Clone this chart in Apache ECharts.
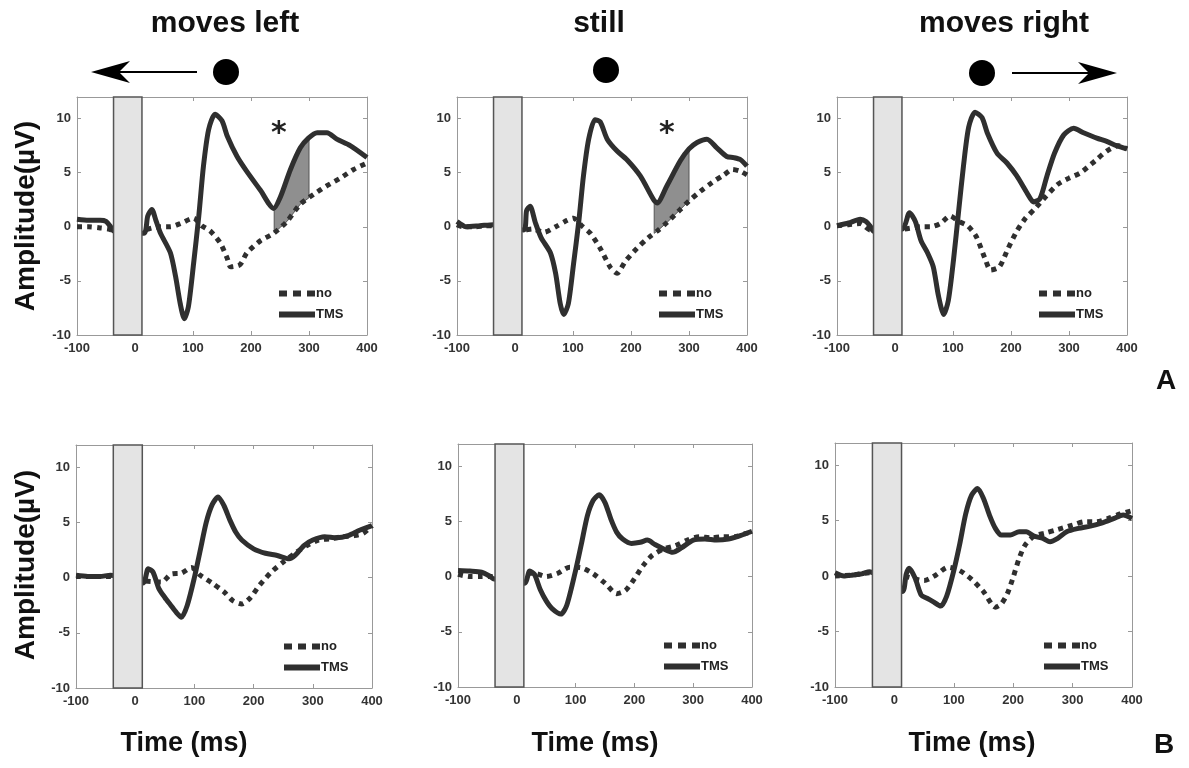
<!DOCTYPE html>
<html>
<head>
<meta charset="utf-8">
<script src="https://cdn.jsdelivr.net/npm/echarts@6/dist/echarts.min.js"></script>
<style>
html,body{margin:0;padding:0;background:#fff;}
#chart{width:1189px;height:768px;}
</style>
</head>
<body>
<div id="chart"></div>
<script>
// ---------- data ----------
const panelTitles = ['moves left', 'still', 'moves right'];
const rowLetters = ['A', 'B'];
const seriesNames = ['no', 'TMS'];
const xMin = -100, xMax = 400, xStep = 100;
const yMin = -10, yMax = 12, yStep = 5;
const tmsWindow = [-37, 12];          // grey TMS pulse box (ms)
const sigWindow = [240, 300];         // significant window (ms)

// Row A, moves left
const noA1 = [[-100,0.0],[-80,0.0],[-60,-0.1],[-45,-0.2],[-37,-0.4],[15,-0.3],[30,-0.1],[44,0.0],[61,0.0],[78,0.3],[101,0.8],[115,0.1],[130,-0.4],[147,-1.5],[159,-2.9],[165,-3.7],[181,-3.5],[193,-2.4],[216,-1.3],[239,-0.6],[262,0.5],[285,2.1],[308,3.0],[331,3.8],[354,4.5],[377,5.3],[400,5.9]];
const tmsA1 = [[-100,0.7],[-80,0.6],[-60,0.6],[-50,0.5],[-42,0.0],[-37,-0.4],[15,-0.6],[22,1.0],[29,1.6],[36,0.6],[44,-0.6],[61,-2.4],[70,-4.6],[78,-7.1],[85,-8.5],[92,-7.4],[101,-3.4],[110,1.0],[118,5.6],[127,9.0],[138,10.4],[150,9.8],[159,8.4],[176,6.5],[193,5.1],[216,3.4],[239,1.7],[251,2.8],[268,5.3],[285,7.3],[299,8.2],[314,8.7],[331,8.7],[348,8.1],[371,7.5],[400,6.4]];
// Row A, still
const noA2 = [[-100,0.2],[-90,0.0],[-70,0.0],[-50,0.1],[-37,0.1],[15,-0.3],[30,-0.2],[50,-0.5],[70,0.0],[90,0.6],[101,0.8],[115,0.1],[130,-0.6],[147,-2.0],[165,-3.8],[176,-4.3],[190,-3.2],[210,-2.0],[230,-1.0],[245,-0.4],[262,0.4],[285,1.6],[300,2.4],[320,3.3],[340,4.1],[360,4.8],[375,5.3],[390,5.1],[400,4.8]];
const tmsA2 = [[-100,0.5],[-92,0.2],[-85,0.0],[-60,0.1],[-37,0.2],[15,-0.3],[20,1.5],[26,1.9],[35,0.4],[45,-1.0],[61,-2.4],[70,-4.3],[78,-7.1],[84,-8.1],[92,-7.1],[101,-3.4],[110,0.5],[118,4.7],[127,8.1],[138,9.9],[147,9.7],[159,8.1],[176,7.0],[193,6.2],[216,4.7],[239,2.5],[245,2.2],[262,3.8],[285,6.1],[300,7.2],[314,7.8],[331,8.1],[348,7.3],[365,6.5],[377,6.4],[389,6.2],[400,5.6]];
// Row A, moves right
const noA3 = [[-100,0.1],[-80,0.2],[-60,0.3],[-42,-0.3],[15,-0.2],[45,0.0],[61,0.0],[78,0.3],[95,1.0],[110,0.5],[125,0.1],[140,-0.9],[155,-2.9],[165,-4.0],[180,-3.7],[195,-2.0],[210,-0.4],[225,0.8],[240,1.6],[260,2.8],[280,3.9],[300,4.5],[320,5.0],[345,6.1],[365,7.0],[385,7.5],[400,7.2]];
const tmsA3 = [[-100,0.1],[-80,0.35],[-60,0.7],[-50,0.5],[-42,0.0],[-37,-0.4],[13,-0.2],[25,1.3],[35,0.5],[45,-1.3],[56,-2.4],[66,-3.7],[75,-6.4],[84,-8.1],[92,-6.8],[101,-3.0],[110,1.6],[118,5.6],[127,9.2],[138,10.6],[150,10.1],[159,8.7],[176,6.8],[193,5.9],[210,4.7],[228,3.1],[239,2.3],[250,2.6],[262,4.7],[275,6.8],[291,8.5],[308,9.1],[325,8.7],[348,8.2],[365,7.9],[382,7.5],[400,7.2]];
// Row B, moves left
const noB1 = [[-100,0.1],[-70,0.1],[-42,0.1],[15,-0.3],[45,-0.4],[60,0.3],[78,0.4],[95,0.9],[110,0.2],[130,-0.5],[150,-1.3],[165,-2.1],[180,-2.4],[195,-1.8],[210,-0.7],[230,0.5],[250,1.4],[270,2.2],[290,2.9],[310,3.4],[330,3.5],[350,3.7],[370,3.8],[385,4.0],[400,4.7]];
const tmsB1 = [[-100,0.2],[-80,0.1],[-60,0.1],[-42,0.2],[13,-0.5],[22,0.8],[30,0.5],[40,-1.0],[50,-1.8],[60,-2.5],[70,-3.2],[78,-3.6],[88,-2.5],[100,0.0],[110,2.5],[120,5.0],[130,6.6],[140,7.3],[150,6.5],[160,5.2],[170,4.1],[180,3.4],[200,2.6],[220,2.2],[240,2.0],[260,1.7],[270,2.0],[285,2.9],[300,3.4],[320,3.7],[340,3.6],[360,3.8],[380,4.3],[400,4.7]];
// Row B, still
const noB2 = [[-100,0.2],[-80,0.0],[-60,0.0],[-42,0.0],[15,0.3],[30,0.3],[50,0.0],[70,0.3],[90,0.85],[110,0.8],[130,0.25],[150,-0.6],[170,-1.55],[185,-1.25],[200,-0.2],[215,1.0],[230,1.9],[250,2.5],[270,2.8],[290,3.3],[310,3.6],[330,3.5],[350,3.6],[370,3.6],[390,3.9],[400,4.1]];
const tmsB2 = [[-100,0.55],[-80,0.5],[-60,0.4],[-45,0.0],[-40,-0.2],[13,-0.6],[22,0.5],[30,0.2],[40,-1.2],[50,-2.2],[60,-2.9],[75,-3.4],[85,-2.6],[100,0.55],[110,3.0],[120,5.5],[130,6.9],[140,7.4],[150,6.7],[160,5.2],[170,4.0],[180,3.4],[195,3.0],[210,3.1],[222,3.3],[235,2.9],[250,2.5],[265,2.2],[280,2.6],[300,3.3],[320,3.4],[340,3.3],[360,3.4],[380,3.7],[400,4.1]];
// Row B, moves right
const noB3 = [[-100,0.0],[-70,0.1],[-42,0.3],[15,0.0],[50,-0.4],[70,0.1],[90,0.8],[110,0.5],[130,-0.3],[150,-1.4],[170,-2.8],[180,-2.5],[190,-1.6],[200,-0.1],[210,1.6],[220,2.8],[235,3.6],[255,3.9],[275,4.2],[300,4.6],[320,4.9],[340,4.9],[360,5.2],[380,5.6],[400,5.9]];
const tmsB3 = [[-100,0.3],[-85,0.0],[-70,0.1],[-55,0.2],[-42,0.4],[13,-1.4],[20,0.2],[25,0.7],[35,-0.2],[45,-1.7],[55,-2.0],[65,-2.3],[78,-2.7],[88,-1.8],[100,0.5],[110,2.9],[120,5.6],[130,7.3],[140,7.9],[150,7.0],[160,5.5],[170,4.3],[180,3.7],[195,3.7],[210,4.0],[222,4.0],[235,3.6],[250,3.4],[262,3.1],[275,3.4],[290,4.0],[310,4.3],[330,4.5],[350,4.8],[370,5.2],[385,5.5],[400,5.2]];

const noData = [noA1, noA2, noA3, noB1, noB2, noB3];
const tmsData = [tmsA1, tmsA2, tmsA3, tmsB1, tmsB2, tmsB3];
const significant = [true, true, false, false, false, false];
const asteriskPos = [[248, 8.6], [262, 8.6]];

// ---------- layout ----------
const grids = [
  {left: 77, top: 97, width: 290, height: 238},
  {left: 457, top: 97, width: 290, height: 238},
  {left: 837, top: 97, width: 290, height: 238},
  {left: 76, top: 445, width: 296, height: 243},
  {left: 458, top: 444, width: 294, height: 243},
  {left: 835, top: 443, width: 297, height: 244}
];
const lineColor = '#2f2f2f';
const font = '"Liberation Sans", Arial, sans-serif';
const iconDotted = 'path://M0,0h8v6h-8z M14,0h8v6h-8z M28,0h8v6h-8z';
const iconSolid = 'path://M0,0h36v6h-36z';

function interp(arr, x) {
  for (let i = 0; i < arr.length - 1; i++) {
    const a = arr[i], b = arr[i + 1];
    if (x >= a[0] && x <= b[0]) return a[1] + (b[1] - a[1]) * (x - a[0]) / (b[0] - a[0]);
  }
  return arr[arr.length - 1][1];
}

const xAxes = [], yAxes = [], series = [], legends = [];
grids.forEach((g, i) => {
  const tickLabel = {show: true, color: '#333', fontWeight: 'bold', fontSize: 13, fontFamily: font};
  xAxes.push({type: 'value', gridIndex: i, min: xMin, max: xMax, interval: xStep, position: 'bottom',
    axisLine: {show: true, onZero: false, lineStyle: {color: '#999', width: 1}},
    axisTick: {show: true, inside: true, length: 4, lineStyle: {color: '#999'}},
    axisLabel: Object.assign({margin: 7}, tickLabel), splitLine: {show: false}});
  xAxes.push({type: 'value', gridIndex: i, min: xMin, max: xMax, interval: xStep, position: 'top',
    axisLine: {show: true, onZero: false, lineStyle: {color: '#999', width: 1}},
    axisTick: {show: true, inside: true, length: 4, lineStyle: {color: '#999'}},
    axisLabel: {show: false}, splitLine: {show: false}});
  yAxes.push({type: 'value', gridIndex: i, min: yMin, max: yMax, interval: yStep, position: 'left',
    axisLine: {show: true, onZero: false, lineStyle: {color: '#999', width: 1}},
    axisTick: {show: true, inside: true, length: 4, lineStyle: {color: '#999'}},
    axisLabel: Object.assign({margin: 6, showMaxLabel: false}, tickLabel), splitLine: {show: false}});
  yAxes.push({type: 'value', gridIndex: i, min: yMin, max: yMax, interval: yStep, position: 'right',
    axisLine: {show: true, onZero: false, lineStyle: {color: '#999', width: 1}},
    axisTick: {show: true, inside: true, length: 4, lineStyle: {color: '#999'}},
    axisLabel: {show: false}, splitLine: {show: false}});
  const xi = i * 2, yi = i * 2;

  if (significant[i]) {
    const tms = tmsData[i], no = noData[i];
    series.push({
      type: 'custom', xAxisIndex: xi, yAxisIndex: yi, z: 1, silent: true,
      data: [[sigWindow[0], sigWindow[1]]],
      renderItem: (params, api) => {
        const x0 = api.value(0), x1 = api.value(1);
        const xs = [x0];
        tms.concat(no).forEach(p => { if (p[0] > x0 && p[0] < x1) xs.push(p[0]); });
        xs.push(x1);
        xs.sort((a, b) => a - b);
        const top = xs.map(x => api.coord([x, interp(tms, x)]));
        const bot = xs.slice().reverse().map(x => api.coord([x, interp(no, x)]));
        return {type: 'polygon', shape: {points: top.concat(bot)},
          style: {fill: '#8f8f8f', stroke: '#555', lineWidth: 1}};
      }
    });
    series.push({
      type: 'custom', xAxisIndex: xi, yAxisIndex: yi, z: 6, silent: true,
      data: [asteriskPos[i]],
      renderItem: (params, api) => {
        const p = api.coord([api.value(0), api.value(1)]);
        return {type: 'text', x: p[0], y: p[1],
          style: {text: '*', font: 'bold 30px "DejaVu Sans", sans-serif', fill: '#222', align: 'center', verticalAlign: 'middle'}};
      }
    });
  }
  series.push({
    name: 'no', type: 'line', xAxisIndex: xi, yAxisIndex: yi, data: noData[i], showSymbol: false, symbol: 'none',
    smooth: 0.25, z: 3, lineStyle: {color: lineColor, width: 5, type: [5, 5], cap: 'butt'}, itemStyle: {color: lineColor}
  });
  series.push({
    name: 'TMS', type: 'line', xAxisIndex: xi, yAxisIndex: yi, data: tmsData[i], showSymbol: false, symbol: 'none',
    smooth: 0.25, z: 4, lineStyle: {color: lineColor, width: 5, type: 'solid'}, itemStyle: {color: lineColor}
  });
  series.push({
    type: 'custom', xAxisIndex: xi, yAxisIndex: yi, z: 8, silent: true,
    data: [[tmsWindow[0], tmsWindow[1]]],
    renderItem: (params, api) => {
      const p0 = api.coord([api.value(0), yMax]);
      const p1 = api.coord([api.value(1), yMin]);
      return {type: 'rect', shape: {x: p0[0], y: p0[1], width: p1[0] - p0[0], height: p1[1] - p0[1]},
        style: {fill: '#e4e4e4', stroke: '#555', lineWidth: 1.5}};
    }
  });
  legends.push({
    data: [{name: seriesNames[0], icon: iconDotted}, {name: seriesNames[1], icon: iconSolid}],
    orient: 'vertical', left: g.left + g.width - 88, top: g.top + g.height - 48,
    itemWidth: 36, itemHeight: 6, itemGap: 8, selectedMode: false, padding: 0,
    textStyle: {color: '#222', fontWeight: 'bold', fontSize: 13, fontFamily: font, padding: [0, 0, 0, -4]}
  });
});

// ---------- decorations ----------
const graphics = [];
const titleX = [225, 599, 1004];
panelTitles.forEach((t, i) => {
  graphics.push({type: 'text', x: titleX[i], y: 24, style: {text: t, font: 'bold 30px ' + font, fill: '#111', align: 'center', verticalAlign: 'middle'}});
});
const dots = [[226, 72], [606, 70], [982, 73]];
dots.forEach(d => graphics.push({type: 'circle', shape: {cx: d[0], cy: d[1], r: 13}, style: {fill: '#000'}}));
graphics.push({type: 'line', shape: {x1: 197, y1: 72, x2: 110, y2: 72}, style: {stroke: '#000', lineWidth: 2}});
graphics.push({type: 'polygon', shape: {points: [[91, 72], [130, 61], [119, 72], [130, 83]]}, style: {fill: '#000'}});
graphics.push({type: 'line', shape: {x1: 1012, y1: 73, x2: 1098, y2: 73}, style: {stroke: '#000', lineWidth: 2}});
graphics.push({type: 'polygon', shape: {points: [[1117, 73], [1078, 62], [1089, 73], [1078, 84]]}, style: {fill: '#000'}});
[216, 565].forEach(cy => graphics.push({type: 'text', x: 26, y: cy, rotation: Math.PI / 2,
  style: {text: 'Amplitude(\u00b5V)', font: 'bold 28px ' + font, fill: '#111', align: 'center', verticalAlign: 'middle'}}));
[184, 595, 972].forEach(cx => graphics.push({type: 'text', x: cx, y: 744,
  style: {text: 'Time (ms)', font: 'bold 27px ' + font, fill: '#111', align: 'center', verticalAlign: 'middle'}}));
graphics.push({type: 'text', x: 1166, y: 381, style: {text: rowLetters[0], font: 'bold 28px ' + font, fill: '#111', align: 'center', verticalAlign: 'middle'}});
graphics.push({type: 'text', x: 1164, y: 745, style: {text: rowLetters[1], font: 'bold 28px ' + font, fill: '#111', align: 'center', verticalAlign: 'middle'}});

const chart = echarts.init(document.getElementById('chart'), null, {renderer: 'canvas'});
chart.setOption({
  animation: false,
  backgroundColor: '#fff',
  grid: grids,
  xAxis: xAxes,
  yAxis: yAxes,
  legend: legends,
  series: series,
  graphic: graphics
});
</script>
</body>
</html>
